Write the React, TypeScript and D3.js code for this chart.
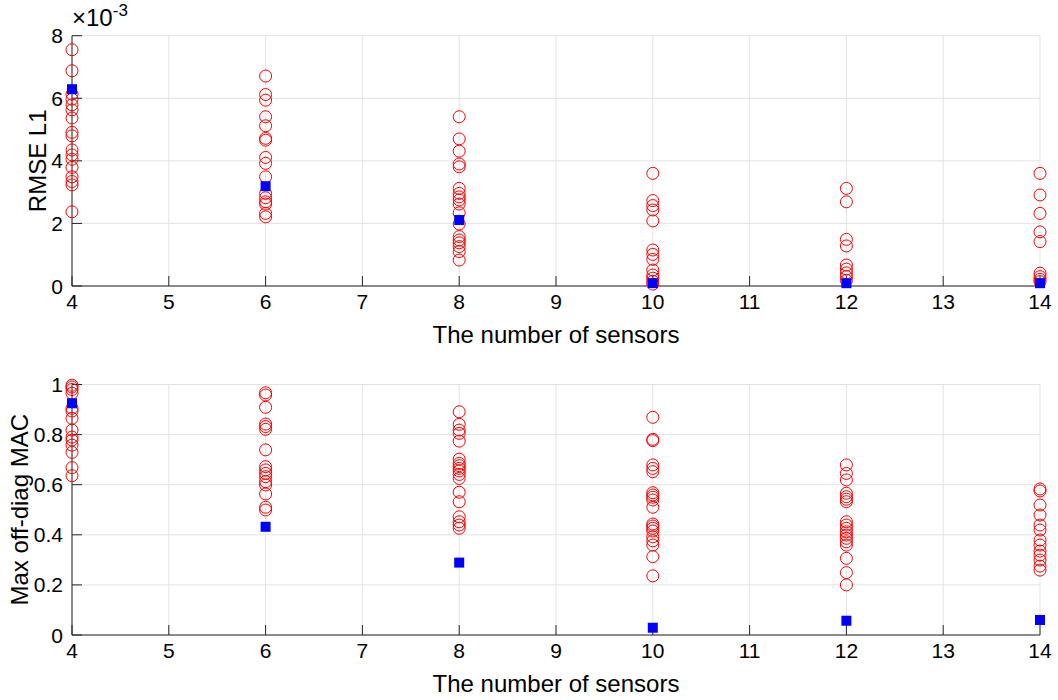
import React from "react";
import * as d3 from "d3";

// Sensor counts on the x axis
const sensorCounts = [4, 6, 8, 10, 12, 14];

// RMSE L1 of every trial layout, in units of 1e-3, one list per sensor count
const rmseTrials: number[][] = [
  [7.55, 6.88, 6.13, 5.97, 5.79, 5.63, 5.37, 4.91, 4.8, 4.35, 4.19, 4.05, 3.79, 3.49, 3.34, 3.23, 2.37],
  [6.71, 6.12, 5.94, 5.41, 5.12, 4.72, 4.66, 4.11, 3.92, 3.49, 2.96, 2.82, 2.69, 2.62, 2.32, 2.21],
  [5.41, 4.7, 4.31, 3.9, 3.81, 3.12, 2.96, 2.85, 2.75, 2.62, 2.34, 1.98, 1.58, 1.47, 1.38, 1.26, 1.1, 0.83],
  [3.6, 2.73, 2.57, 2.43, 2.08, 1.15, 1.01, 0.85, 0.51, 0.35, 0.25, 0.15, 0.06],
  [3.12, 2.69, 1.49, 1.28, 0.67, 0.54, 0.42, 0.3, 0.18],
  [3.6, 2.91, 2.32, 1.73, 1.42, 0.41, 0.3, 0.21, 0.14],
];
// RMSE L1 of the selected layout (1e-3)
const rmseSelected = [6.29, 3.19, 2.11, 0.09, 0.09, 0.09];

// Max off-diagonal MAC of every trial layout
const macTrials: number[][] = [
  [0.997, 0.99, 0.98, 0.965, 0.905, 0.894, 0.865, 0.818, 0.79, 0.778, 0.758, 0.729, 0.668, 0.636],
  [0.967, 0.958, 0.909, 0.842, 0.832, 0.821, 0.739, 0.672, 0.659, 0.645, 0.632, 0.612, 0.599, 0.563, 0.51, 0.499],
  [0.891, 0.841, 0.818, 0.805, 0.774, 0.702, 0.685, 0.676, 0.665, 0.655, 0.641, 0.625, 0.57, 0.532, 0.472, 0.452, 0.439, 0.426],
  [0.869, 0.781, 0.776, 0.679, 0.665, 0.652, 0.568, 0.559, 0.55, 0.539, 0.51, 0.443, 0.435, 0.426, 0.415, 0.392, 0.376, 0.359, 0.313, 0.236],
  [0.679, 0.645, 0.619, 0.566, 0.552, 0.542, 0.532, 0.452, 0.439, 0.426, 0.412, 0.399, 0.386, 0.372, 0.359, 0.306, 0.249, 0.2],
  [0.583, 0.575, 0.519, 0.479, 0.439, 0.419, 0.379, 0.359, 0.335, 0.319, 0.299, 0.275, 0.259],
];
// Max off-diagonal MAC of the selected layout
const macSelected = [0.925, 0.432, 0.289, 0.029, 0.057, 0.06];

const xTicks = [4, 5, 6, 7, 8, 9, 10, 11, 12, 13, 14];
const rmseTicks = [0, 2, 4, 6, 8];
const macTicks = [0, 0.2, 0.4, 0.6, 0.8, 1];

const FONT = "'Liberation Sans', Arial, Helvetica, sans-serif";
const AXIS = "#262626";
const GRID = "#e3e3e3";
const TICK_FS = 21;
const LABEL_FS = 24;

interface PanelProps {
  top: number;
  bottom: number;
  yDomain: [number, number];
  yTicks: number[];
  yFormat: (v: number) => string;
  trials: number[][];
  selected: number[];
  yLabel: string;
  yLabelX: number;
  exponent?: boolean;
}

const left = 72;
const right = 1040;

function Panel(p: PanelProps) {
  const x = d3.scaleLinear().domain([4, 14]).range([left, right]);
  const y = d3.scaleLinear().domain(p.yDomain).range([p.bottom, p.top]);
  const tickLen = 10;
  const sq = 10;
  return (
    <g>
      {/* grid */}
      {xTicks.map((t) => (
        <line key={"gx" + t} x1={x(t)} x2={x(t)} y1={p.top} y2={p.bottom} stroke={GRID} strokeWidth={1} />
      ))}
      {p.yTicks.map((t) => (
        <line key={"gy" + t} x1={left} x2={right} y1={y(t)} y2={y(t)} stroke={GRID} strokeWidth={1} />
      ))}
      {/* axes */}
      <line x1={left} x2={left} y1={p.top} y2={p.bottom} stroke={AXIS} strokeWidth={1} />
      <line x1={left} x2={right} y1={p.bottom} y2={p.bottom} stroke={AXIS} strokeWidth={1} />
      {xTicks.map((t) => (
        <g key={"tx" + t}>
          <line x1={x(t)} x2={x(t)} y1={p.bottom} y2={p.bottom - tickLen} stroke={AXIS} strokeWidth={1} />
          <text x={x(t)} y={p.bottom + 23} textAnchor="middle" fontSize={TICK_FS} fontFamily={FONT} fill="#000">
            {t}
          </text>
        </g>
      ))}
      {p.yTicks.map((t) => (
        <g key={"ty" + t}>
          <line x1={left} x2={left + tickLen} y1={y(t)} y2={y(t)} stroke={AXIS} strokeWidth={1} />
          <text x={left - 9} y={y(t) + 7.5} textAnchor="end" fontSize={TICK_FS} fontFamily={FONT} fill="#000">
            {p.yFormat(t)}
          </text>
        </g>
      ))}
      {/* trial layouts */}
      {p.trials.map((vals, i) =>
        vals.map((v, j) => (
          <circle
            key={"c" + i + "-" + j}
            cx={x(sensorCounts[i])}
            cy={y(v)}
            r={6}
            fill="none"
            stroke="#ff0000"
            strokeWidth={1}
          />
        ))
      )}
      {/* selected layouts */}
      {p.selected.map((v, i) => (
        <rect
          key={"s" + i}
          x={x(sensorCounts[i]) - sq / 2}
          y={y(v) - sq / 2}
          width={sq}
          height={sq}
          fill="#0000ff"
        />
      ))}
      <text
        x={(left + right) / 2}
        y={p.bottom + 57}
        textAnchor="middle"
        fontSize={LABEL_FS}
        fontFamily={FONT}
        fill="#000"
      >
        The number of sensors
      </text>
      <text
        transform={`translate(${p.yLabelX},${(p.top + p.bottom) / 2}) rotate(-90)`}
        textAnchor="middle"
        fontSize={LABEL_FS}
        fontFamily={FONT}
        fill="#000"
      >
        {p.yLabel}
      </text>
      {p.exponent && (
        <text x={left} y={p.top - 10} fontSize={24} fontFamily={FONT} fill="#000">
          ×10
          <tspan dy={-10} fontSize={17}>
            -3
          </tspan>
        </text>
      )}
    </g>
  );
}

export default function App() {
  return (
    <svg
      width={1058}
      height={700}
      style={{ position: "absolute", left: 0, top: 0, background: "#fff" }}
    >
      <rect width={1058} height={700} fill="#fff" />
      <Panel
        top={35.7}
        bottom={286}
        yDomain={[0, 8]}
        yTicks={rmseTicks}
        yFormat={(v) => String(v)}
        trials={rmseTrials}
        selected={rmseSelected}
        yLabel="RMSE L1"
        yLabelX={46}
        exponent
      />
      <Panel
        top={384.5}
        bottom={635}
        yDomain={[0, 1]}
        yTicks={macTicks}
        yFormat={(v) => String(v)}
        trials={macTrials}
        selected={macSelected}
        yLabel="Max off-diag MAC"
        yLabelX={28}
      />
    </svg>
  );
}
